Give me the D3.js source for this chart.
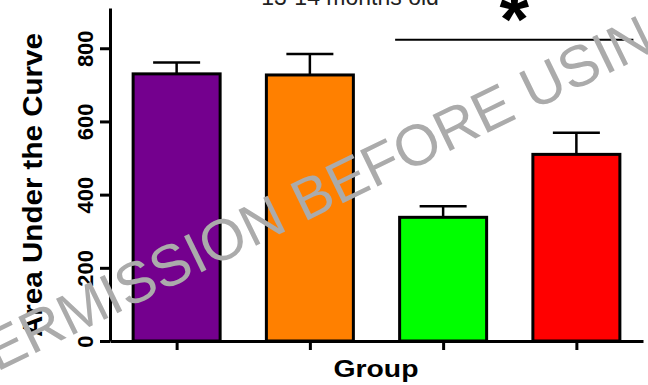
<!DOCTYPE html>
<html>
<head>
<meta charset="utf-8">
<script src="https://cdn.jsdelivr.net/npm/d3@7"></script>
<style>
  body { margin: 0; background: #fff; }
  svg { display: block; font-family: "Liberation Sans", Arial, sans-serif; }
</style>
</head>
<body>
<div id="chart"></div>
<script>
// data
const groups = ["Group 1", "Group 2", "Group 3", "Group 4"];
const means = [730, 727, 338, 510];
const sems = [31, 57, 30, 59];
const barColors = ["#74008e", "#ff8000", "#00ff00", "#ff0000"];
const yTicks = [0, 200, 400, 600, 800];
const sigPair = ["Group 3", "Group 4"];
const sigLevel = 823;

const canvasWidth = 648;
const canvasHeight = 385;
const barWidth = 87;
const capWidth = 47;

const svg = d3.select("#chart")
    .append("svg")
    .attr("width", canvasWidth)
    .attr("height", canvasHeight);

const xScale = d3.scalePoint().domain(groups).range([110, 643]).padding(0.5);
const yScale = d3.scaleLinear().domain([0, 910]).range([341, 8]);

// title, mostly cut off at the top
svg.append("text")
    .attr("x", 350)
    .attr("y", 5)
    .attr("text-anchor", "middle")
    .attr("font-size", 23)
    .attr("fill", "#222")
    .text("13-14 months old");

// y axis
const yAxis = svg.append("g")
    .attr("transform", "translate(110,0)")
    .call(d3.axisLeft(yScale).tickValues(yTicks).tickSize(10).tickSizeOuter(0));
yAxis.select(".domain").attr("stroke-width", 3);
yAxis.selectAll(".tick line").attr("stroke-width", 3);
yAxis.selectAll(".tick text")
    .attr("transform", "rotate(-90)")
    .attr("x", 0)
    .attr("y", -17)
    .attr("dy", null)
    .attr("text-anchor", "middle")
    .attr("font-size", 22)
    .attr("font-weight", "bold")
    .attr("fill", "#000");

// x axis, no tick labels
const xAxis = svg.append("g")
    .attr("transform", `translate(0,${yScale(0)})`)
    .call(d3.axisBottom(xScale).tickSize(9).tickSizeOuter(0).tickFormat(""));
xAxis.select(".domain").attr("stroke-width", 3);
xAxis.selectAll(".tick line").attr("stroke-width", 3);

// axis titles
svg.append("text")
    .attr("transform", "translate(42,185) rotate(-90)")
    .attr("text-anchor", "middle")
    .attr("font-size", 27)
    .attr("font-weight", "bold")
    .attr("textLength", 304)
    .attr("lengthAdjust", "spacingAndGlyphs")
    .text("Area Under the Curve");

svg.append("text")
    .attr("x", 376)
    .attr("y", 377)
    .attr("text-anchor", "middle")
    .attr("font-size", 24)
    .attr("font-weight", "bold")
    .attr("textLength", 85)
    .attr("lengthAdjust", "spacingAndGlyphs")
    .text("Group");

// error bars (drawn under the bars so only the upper half shows)
const errs = svg.selectAll(".err")
    .data(groups)
    .enter()
    .append("g")
    .attr("class", "err")
    .attr("stroke", "#000")
    .attr("stroke-width", 2.5);

errs.append("line")
    .attr("x1", d => xScale(d))
    .attr("x2", d => xScale(d))
    .attr("y1", (d, i) => yScale(means[i]))
    .attr("y2", (d, i) => yScale(means[i] + sems[i]));

errs.append("line")
    .attr("x1", d => xScale(d) - capWidth / 2)
    .attr("x2", d => xScale(d) + capWidth / 2)
    .attr("y1", (d, i) => yScale(means[i] + sems[i]))
    .attr("y2", (d, i) => yScale(means[i] + sems[i]));

// bars
svg.selectAll(".bar")
    .data(groups)
    .enter()
    .append("rect")
    .attr("class", "bar")
    .attr("x", d => xScale(d) - barWidth / 2)
    .attr("width", barWidth)
    .attr("y", (d, i) => yScale(means[i]))
    .attr("height", (d, i) => yScale(0) - yScale(means[i]))
    .attr("fill", (d, i) => barColors[i])
    .attr("stroke", "#000")
    .attr("stroke-width", 3);

// significance bracket
const sigX1 = xScale(sigPair[0]) - 48;
const sigX2 = xScale(sigPair[1]) + 57;
svg.append("line")
    .attr("x1", sigX1)
    .attr("x2", sigX2)
    .attr("y1", yScale(sigLevel))
    .attr("y2", yScale(sigLevel))
    .attr("stroke", "#000")
    .attr("stroke-width", 2);

svg.append("text")
    .attr("x", (sigX1 + sigX2) / 2)
    .attr("y", 45)
    .attr("text-anchor", "middle")
    .attr("font-size", 76)
    .attr("font-weight", "bold")
    .text("*");

// watermark over everything
svg.append("text")
    .attr("transform", "translate(-38,389) rotate(-26)")
    .attr("font-size", 58)
    .attr("fill", "#ababab")
    .text("PERMISSION BEFORE USING");
</script>
</body>
</html>
